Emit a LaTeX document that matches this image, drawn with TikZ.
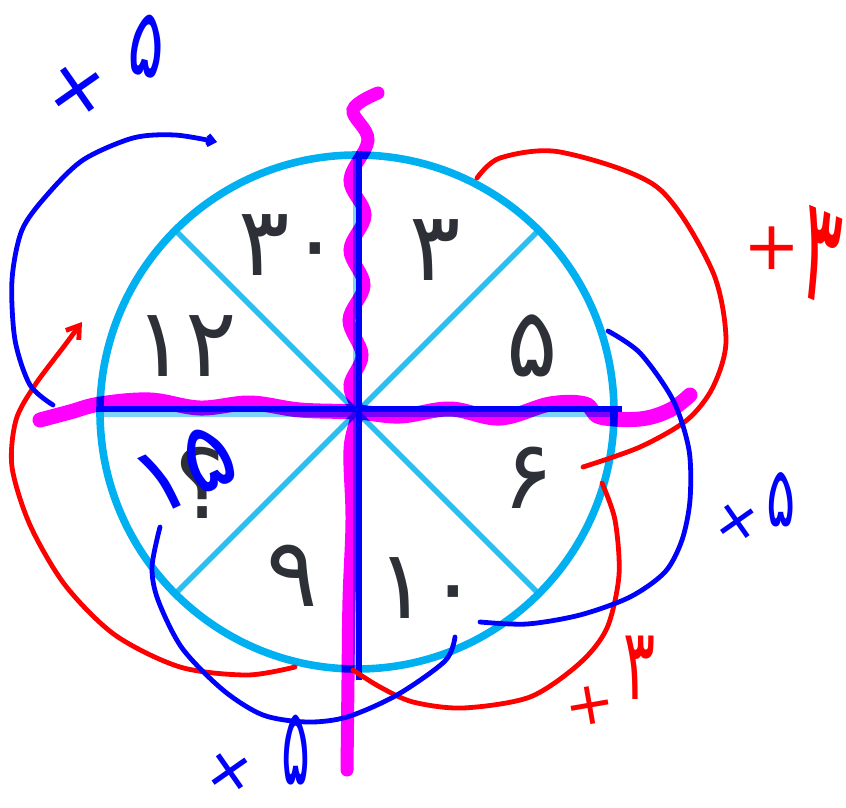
\documentclass[tikz,border=0pt]{standalone}
\usepackage{fontspec}
\newfontfamily\fafont[Script=Arabic]{DejaVu Sans}
\usetikzlibrary{arrows.meta}
\definecolor{ringblue}{RGB}{0,176,240}
\definecolor{spokeblue}{RGB}{45,190,240}
\definecolor{axisblue}{RGB}{125,212,248}
\definecolor{penblue}{RGB}{0,0,255}
\definecolor{penred}{RGB}{255,0,0}
\definecolor{penpink}{RGB}{255,0,255}
\definecolor{inkgray}{RGB}{45,48,54}

\begin{document}
\begin{tikzpicture}[x=0.5pt,y=-0.5pt,
    num/.style={font=\fontsize{48}{48}\fafont,text=inkgray,inner sep=0pt},
    hand/.style={font=\fontsize{#1}{#1}\fafont,inner sep=0pt},
    pen/.style={line width=2.4pt,line cap=round,line join=round}]
  \useasboundingbox (0,0) rectangle (846,808);
  \coordinate (o) at (357,412);
  % wheel
  \draw[axisblue,line width=4.5pt] (100,412) -- (614,412);
  \draw[axisblue,line width=4.5pt] (357,155) -- (357,669);
  \foreach \a in {45,135,225,315}
    \draw[spokeblue,line width=2.8pt] (o) -- ++(\a:128.5pt);
  \draw[ringblue,line width=3.8pt] (o) circle[radius=128.5pt];
  \draw[penblue,line width=2.6pt] (97,409) -- (622,409);
  \draw[penblue,line width=2.6pt] (359,157) -- (359,680);
  % highlighter
  \begin{scope}[blend mode=multiply]
    \draw[penpink,line width=6.5pt,line cap=round] plot[smooth,tension=.6] coordinates
      {(378,93) (353,110) (368,140) (350,180) (365,215) (350,250) (364,285) (349,320)
       (362,355) (350,385) (357,412) (350,450) (352,520) (349,600) (348,680) (347,770)};
    \draw[penpink,line width=7.5pt,line cap=round] plot[smooth,tension=.6] coordinates
      {(40,420) (70,412) (100,404) (150,400) (200,408) (250,403) (300,410) (357,412)
       (400,416) (450,409) (500,418) (550,404) (585,404) (600,417) (640,419) (670,410) (690,395)};
  \end{scope}
  % numbers
  \node[num] (n30) at (290,245) {۳۰};
  \node[num] (n3) at (435,250) {۳};
  \node[num] (n5) at (532,346) {۵};
  \node[num] (n6) at (528,478) {۶};
  \node[num] (n10) at (428,588) {۱۰};
  \node[num] (n9) at (292,576) {۹};
  \node[num] (nq) at (200,483) {؟};
  \node[num] (n12) at (186,346) {۱۲};
  % ends of the pen strokes
  \coordinate (r1a) at (477,178);
  \coordinate (r1b) at (583,467);
  \coordinate (r2a) at (602,483);
  \coordinate (r2b) at (353,670);
  \coordinate (r3a) at (295,667);
  \coordinate (r3b) at (82,322);
  \coordinate (b1a) at (608,331);
  \coordinate (b1b) at (480,622);
  \coordinate (b2a) at (455,637);
  \coordinate (b2b) at (160,527);
  \coordinate (b3a) at (53,405);
  \coordinate (b3b) at (217,142);
  % red: +3
  \draw[pen,penred] plot[smooth] coordinates
    {(r1a) (500,158) (560,152) (657,187) (712,270) (726,340) (713,387) (687,420) (640,447) (r1b)};
  \draw[pen,penred] plot[smooth] coordinates
    {(r2a) (615,520) (619,575) (607,628) (580,663) (530,697) (463,708) (413,702) (380,687) (r2b)};
  \draw[pen,penred,-{Straight Barb[length=6pt,width=8pt]}] plot[smooth] coordinates
    {(r3a) (247,675) (180,667) (115,635) (65,585) (30,525) (12,467) (16,420) (35,385) (65,345) (r3b)};
  % blue: +5
  \draw[pen,penblue] plot[smooth] coordinates
    {(b1a) (640,353) (673,400) (689,450) (690,500) (682,540) (665,572) (630,597) (580,615) (527,624) (b1b)};
  \draw[pen,penblue] plot[smooth] coordinates
    {(b2a) (445,661) (397,695) (347,717) (307,722) (263,715) (223,690) (182,648) (158,600) (152,567) (b2b)};
  \draw[pen,penblue,-{Straight Barb[length=3pt,width=5pt]}] plot[smooth] coordinates
    {(b3a) (30,385) (15,340) (12,280) (22,230) (47,195) (83,160) (133,138) (175,135) (b3b)};
  % labels
  \node[hand=34,text=penred] (rs1) at (772,248) {+};
  \node[hand=72,text=penred,xscale=.5,rotate=-12] (rd1) at (821,257) {۳};
  \node[hand=30,text=penred,rotate=10] (rs2) at (590,706) {+};
  \node[hand=50,text=penred,xscale=.6] (rd2) at (640,668) {۳};
  \node[hand=40,text=penblue,rotate=35] (bs3) at (78,90) {+};
  \node[hand=48,text=penblue,xscale=.7,rotate=-10] (bd3) at (147,46) {۵};
  \node[hand=30,text=penblue,rotate=35] (bs1) at (737,522) {+};
  \node[hand=42,text=penblue,xscale=.65] (bd1) at (781,500) {۵};
  \node[hand=32,text=penblue,rotate=35] (bs2) at (230,772) {+};
  \node[hand=54,text=penblue,xscale=.5] (bd2) at (296,750) {۵};
  \node[hand=48,text=penblue,rotate=25] (bq) at (185,470) {۱۵};
\end{tikzpicture}
\end{document}
